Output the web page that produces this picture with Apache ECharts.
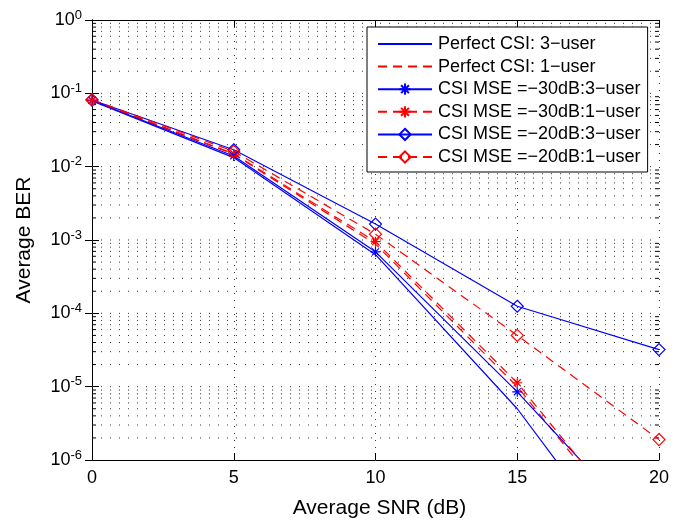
<!DOCTYPE html>
<html>
<head>
<meta charset="utf-8">
<script src="https://cdn.jsdelivr.net/npm/echarts@6/dist/echarts.min.js"></script>
<style>
  html, body { margin: 0; padding: 0; background: #fff; }
  #main { width: 688px; height: 524px; }
</style>
</head>
<body>
<div id="main"></div>
<script>
// SNR points (dB)
var snr = [0, 5, 10, 15, 20];
// BER curves
var perfect3 = [0.079, 0.0133, 6.3e-4, 5.0e-6, 1.3e-8];
var perfect1 = [0.080, 0.0148, 8.8e-4, 1.0e-5, 4.0e-8];
var mse30_3 = [0.080, 0.0140, 6.9e-4, 8.5e-6, 6.9e-8];
var mse30_1 = [0.081, 0.0150, 9.5e-4, 1.13e-5, 4.7e-8];
var mse20_3 = [0.081, 0.0170, 1.65e-3, 1.25e-4, 3.2e-5];
var mse20_1 = [0.082, 0.0162, 1.2e-3, 5.0e-5, 1.9e-6];

var names = ['Perfect CSI: 3\u2212user', 'Perfect CSI: 1\u2212user',
  'CSI MSE =\u221230dB:3\u2212user', 'CSI MSE =\u221230dB:1\u2212user',
  'CSI MSE =\u221220dB:3\u2212user', 'CSI MSE =\u221220dB:1\u2212user'];

var BLUE = '#0000ff', RED = '#ff0000';
var STAR = 'path://M5,0L5,10M0,5L10,5M1.5,1.5L8.5,8.5M1.5,8.5L8.5,1.5';

// minor grid lines on the log axis (2..9 x each decade) and the decades themselves
var minorVals = [];
var decadeVals = [];
for (var e = -6; e < 0; e++) {
  if (e > -6) decadeVals.push(Math.pow(10, e));
  for (var m = 2; m <= 9; m++) minorVals.push(m * Math.pow(10, e));
}

function pairs(arr) {
  var out = [];
  for (var i = 0; i < snr.length; i++) out.push([snr[i], arr[i]]);
  return out;
}

function mkSeries(name, arr, color, dashed, symbol, size) {
  return {
    name: name,
    type: 'line',
    data: pairs(arr),
    symbol: symbol,
    symbolSize: size,
    showSymbol: symbol !== 'none',
    lineStyle: { color: color, width: 1.2, type: dashed ? [9, 6] : 'solid' },
    itemStyle: { color: 'transparent', borderColor: color, borderWidth: 1.2 },
    clip: true,
    z: 5
  };
}

function gridRender(params, api) {
  var v = api.value(1);
  var a = api.coord([0, v]);
  var b = api.coord([20, v]);
  var tick = api.value(2);
  var kids = [{
    type: 'line',
    shape: { x1: a[0], y1: a[1], x2: b[0], y2: b[1] },
    style: { stroke: '#333', lineWidth: 1, lineDash: [1, 8] }
  }];
  if (tick > 0) {
    kids.push({ type: 'line', shape: { x1: a[0], y1: a[1], x2: a[0] + tick, y2: a[1] }, style: { stroke: '#000', lineWidth: 1 } });
    kids.push({ type: 'line', shape: { x1: b[0], y1: b[1], x2: b[0] - tick, y2: b[1] }, style: { stroke: '#000', lineWidth: 1 } });
  }
  return { type: 'group', children: kids };
}

var gridData = minorVals.map(function (v) { return [0, v, 4]; })
  .concat(decadeVals.map(function (v) { return [0, v, 0]; }));

// legend entries; the plain lines get no marker in the key
var legendData = names.map(function (n, i) {
  return i < 2 ? { name: n, itemStyle: { opacity: 0 } } : { name: n };
});

var axisFont = { fontFamily: 'Liberation Sans, Arial, sans-serif', color: '#000' };

var chart = echarts.init(document.getElementById('main'));
chart.setOption({
  animation: false,
  backgroundColor: '#fff',
  textStyle: axisFont,
  grid: { left: 92, right: 29, top: 20, bottom: 61 },
  legend: {
    data: legendData,
    orient: 'vertical',
    left: 367,
    top: 27,
    padding: [7, 7, 5, 10],
    itemWidth: 54,
    itemHeight: 14,
    itemGap: 2.6,
    borderColor: '#000',
    borderWidth: 1,
    backgroundColor: '#fff',
    borderRadius: 0,
    textStyle: { fontSize: 18, lineHeight: 20, color: '#000', fontFamily: 'Liberation Sans, Arial, sans-serif', padding: [0, 0, 0, 1] }
  },
  xAxis: [{
    type: 'value', min: 0, max: 20, interval: 5,
    name: 'Average SNR (dB)', nameLocation: 'middle', nameGap: 38,
    nameTextStyle: { fontSize: 21, color: '#000', padding: [0, 0, 0, 8] },
    axisLine: { lineStyle: { color: '#000', width: 1 } },
    axisTick: { inside: true, length: 7, lineStyle: { color: '#000' } },
    axisLabel: { fontSize: 18, color: '#000', margin: 9 },
    splitLine: { show: true, lineStyle: { color: '#333', width: 1, type: [1, 6] } }
  }, {
    type: 'value', min: 0, max: 20, interval: 5, position: 'top',
    axisLine: { show: true, lineStyle: { color: '#000', width: 1 } },
    axisTick: { inside: true, length: 7, lineStyle: { color: '#000' } },
    axisLabel: { show: false },
    splitLine: { show: false }
  }],
  yAxis: [{
    type: 'log', logBase: 10, min: 1e-6, max: 1, splitNumber: 6,
    name: 'Average BER', nameLocation: 'middle', nameGap: 57, nameRotate: 90,
    nameTextStyle: { fontSize: 21, color: '#000' },
    axisLine: { show: true, lineStyle: { color: '#000', width: 1 } },
    axisTick: { inside: true, length: 7, lineStyle: { color: '#000' } },
    axisLabel: {
      margin: 10,
      formatter: function (v) {
        var ex = Math.round(Math.log10(v));
        return '{b|10}{s|' + (ex < 0 ? '-' + (-ex) : ex) + '}';
      },
      rich: {
        b: { fontSize: 18, color: '#000' },
        s: { fontSize: 13, color: '#000', padding: [0, 0, 10, 0] }
      }
    },
    splitLine: { show: false }
  }, {
    type: 'log', logBase: 10, min: 1e-6, max: 1, splitNumber: 6, position: 'right',
    axisLine: { show: true, lineStyle: { color: '#000', width: 1 } },
    axisTick: { inside: true, length: 7, lineStyle: { color: '#000' } },
    axisLabel: { show: false },
    splitLine: { show: false }
  }],
  series: [
    {
      type: 'custom', renderItem: gridRender, data: gridData,
      silent: true, z: 1, clip: false, encode: { x: 0, y: 1 }
    },
    mkSeries(names[0], perfect3, BLUE, false, 'none', 0),
    mkSeries(names[1], perfect1, RED, true, 'none', 0),
    mkSeries(names[2], mse30_3, BLUE, false, STAR, 10),
    mkSeries(names[3], mse30_1, RED, true, STAR, 10),
    mkSeries(names[4], mse20_3, BLUE, false, 'diamond', 12),
    mkSeries(names[5], mse20_1, RED, true, 'diamond', 12)
  ]
});
</script>
</body>
</html>
